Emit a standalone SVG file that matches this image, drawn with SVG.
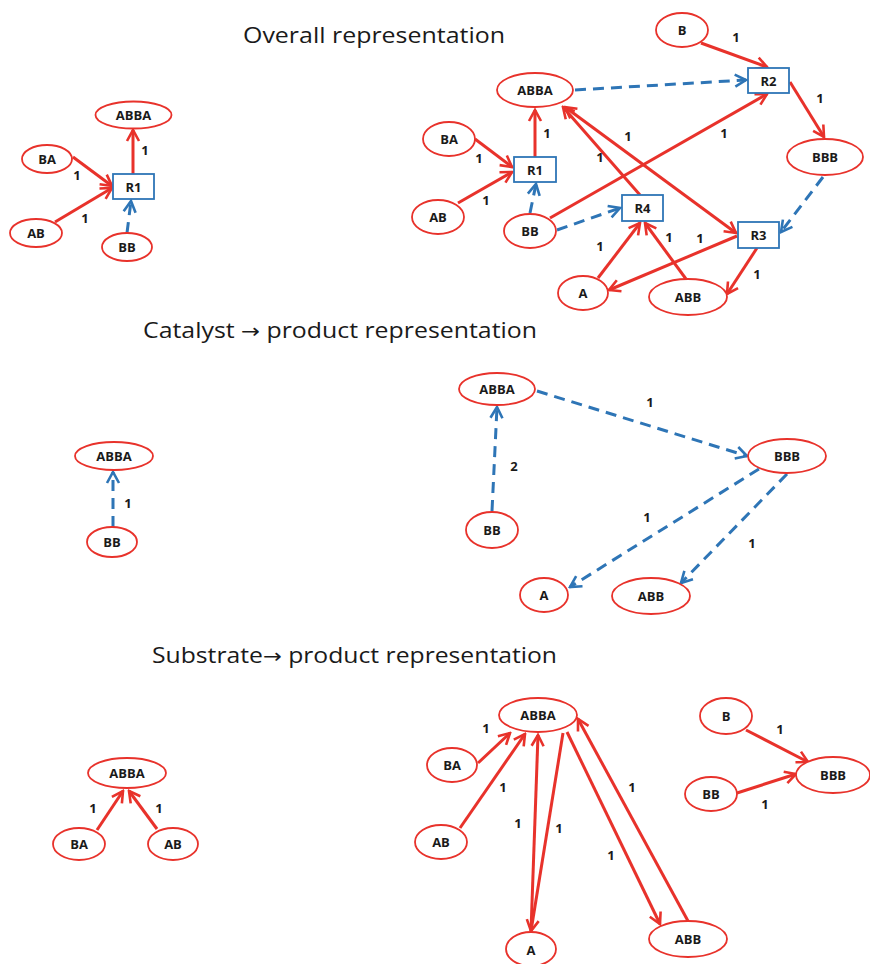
<svg xmlns="http://www.w3.org/2000/svg" width="870" height="964" viewBox="0 0 870 964">
<defs>
<style>
.n ellipse{fill:#fff;stroke:#E8322B;stroke-width:1.8}
.n rect{fill:#fff;stroke:#2E75B6;stroke-width:1.8}
.t{font-family:"Open Sans","Liberation Sans",sans-serif;font-weight:bold;font-size:13px;fill:#1a1a1a;text-anchor:middle;dominant-baseline:central}
.l{font-family:"Open Sans","Liberation Sans",sans-serif;font-weight:bold;font-size:13px;fill:#1a1a1a;text-anchor:middle;dominant-baseline:central}
.h{font-family:"Open Sans","Liberation Sans",sans-serif;font-size:22px;fill:#1a1a1a}
.arw{font-family:"DejaVu Sans",sans-serif;font-size:20px}
.r{fill:none;stroke:#E8322B;stroke-width:3;marker-end:url(#ar)}
.rr{fill:none;stroke:#E8322B;stroke-width:3;marker-end:url(#ar);marker-start:url(#ar)}
.b{fill:none;stroke:#2E75B6;stroke-width:3;stroke-dasharray:11 7;marker-end:url(#ab)}
</style>
<marker id="ar" markerUnits="userSpaceOnUse" markerWidth="16" markerHeight="16" refX="12" refY="7" orient="auto-start-reverse" viewBox="-2 -1 16 16">
<path d="M1,1 L12,7 L1,13" fill="none" stroke="#E8322B" stroke-width="2.6"/>
</marker>
<marker id="ab" markerUnits="userSpaceOnUse" markerWidth="16" markerHeight="16" refX="12" refY="7" orient="auto-start-reverse" viewBox="-2 -1 16 16">
<path d="M1,1 L12,7 L1,13" fill="none" stroke="#2E75B6" stroke-width="2.6"/>
</marker>
</defs>
<rect width="870" height="964" fill="#fff"/>

<text class="h" x="243" y="43" textLength="262" lengthAdjust="spacingAndGlyphs">Overall representation</text>
<text class="h" x="143" y="338" textLength="394" lengthAdjust="spacingAndGlyphs">Catalyst <tspan class="arw">→</tspan> product representation</text>
<text class="h" x="152" y="663" textLength="405" lengthAdjust="spacingAndGlyphs">Substrate<tspan class="arw">→</tspan> product representation</text>

<g id="connectors">
<!-- panel 1 -->
<line class="r" x1="73" y1="157" x2="112" y2="186"/>
<line class="r" x1="55" y1="222" x2="112" y2="188"/>
<line class="r" x1="133" y1="174" x2="133" y2="130"/>
<line class="b" x1="127" y1="233" x2="131" y2="201"/>
<!-- panel 2 -->
<line class="r" x1="701" y1="43" x2="767" y2="67"/>
<line class="b" x1="575" y1="90" x2="746" y2="80"/>
<line class="r" x1="790" y1="82" x2="824" y2="137"/>
<line class="b" x1="823" y1="177" x2="781" y2="232"/>
<line class="r" x1="475" y1="139" x2="512" y2="167"/>
<line class="r" x1="458" y1="203" x2="512" y2="172"/>
<line class="r" x1="535" y1="157" x2="535" y2="110"/>
<line class="b" x1="530" y1="213" x2="536" y2="184"/>
<line class="r" x1="550" y1="218" x2="767" y2="94"/>
<line class="b" x1="557" y1="230" x2="620" y2="208"/>
<line class="r" x1="640" y1="195" x2="563" y2="107"/>
<line class="rr" x1="565" y1="107" x2="736" y2="233"/>
<line class="r" x1="598" y1="278" x2="640" y2="223"/>
<line class="r" x1="686" y1="279" x2="645" y2="223"/>
<line class="r" x1="737" y1="236" x2="609" y2="290"/>
<line class="r" x1="757" y1="248" x2="727" y2="294"/>
<!-- panel 3 -->
<line class="b" x1="113" y1="527" x2="113" y2="472"/>
<line class="b" x1="537" y1="391" x2="747" y2="456"/>
<line class="b" x1="492" y1="511" x2="497" y2="407"/>
<line class="b" x1="759" y1="469" x2="570" y2="587"/>
<line class="b" x1="787" y1="474" x2="681" y2="583"/>
<!-- panel 4 -->
<line class="r" x1="97" y1="830" x2="123" y2="791"/>
<line class="r" x1="157" y1="829" x2="129" y2="791"/>
<line class="r" x1="478" y1="763" x2="510" y2="733"/>
<line class="r" x1="460" y1="828" x2="525" y2="734"/>
<line class="r" x1="531" y1="931" x2="538" y2="735"/>
<line class="r" x1="563" y1="733" x2="531" y2="931"/>
<line class="r" x1="567" y1="732" x2="660" y2="924"/>
<line class="r" x1="688" y1="921" x2="578" y2="719"/>
<line class="r" x1="746" y1="730" x2="808" y2="762"/>
<line class="r" x1="737" y1="793" x2="796" y2="774"/>

<g id="labels">
<text class="l" x="77" y="175">1</text>
<text class="l" x="85" y="218">1</text>
<text class="l" x="145" y="150">1</text>
<text class="l" x="736" y="37">1</text>
<text class="l" x="820" y="98">1</text>
<text class="l" x="479" y="158">1</text>
<text class="l" x="486" y="200">1</text>
<text class="l" x="547" y="133">1</text>
<text class="l" x="724" y="133">1</text>
<text class="l" x="600" y="157">1</text>
<text class="l" x="628" y="136">1</text>
<text class="l" x="600" y="246">1</text>
<text class="l" x="669" y="237">1</text>
<text class="l" x="700" y="238">1</text>
<text class="l" x="757" y="274">1</text>
<text class="l" x="128" y="503">1</text>
<text class="l" x="650" y="402">1</text>
<text class="l" x="514" y="466">2</text>
<text class="l" x="647" y="517">1</text>
<text class="l" x="752" y="543">1</text>
<text class="l" x="93" y="808">1</text>
<text class="l" x="159" y="808">1</text>
<text class="l" x="486" y="728">1</text>
<text class="l" x="503" y="787">1</text>
<text class="l" x="518" y="823">1</text>
<text class="l" x="559" y="828">1</text>
<text class="l" x="611" y="855">1</text>
<text class="l" x="632" y="787">1</text>
<text class="l" x="780" y="729">1</text>
<text class="l" x="765" y="804">1</text>
</g>
</g>

<!-- panel 1 nodes -->
<g id="p1-ABBA" class="n"><ellipse cx="133.5" cy="115" rx="38" ry="13.5"/><text class="t" x="133.5" y="115">ABBA</text></g>
<g id="p1-BA" class="n"><ellipse cx="47" cy="159" rx="25" ry="14"/><text class="t" x="47" y="159">BA</text></g>
<g id="p1-AB" class="n"><ellipse cx="36" cy="233" rx="26" ry="14"/><text class="t" x="36" y="233">AB</text></g>
<g id="p1-R1" class="n"><rect x="113" y="174" width="41" height="25"/><text class="t" x="133.5" y="186.5">R1</text></g>
<g id="p1-BB" class="n"><ellipse cx="127" cy="247" rx="25" ry="14"/><text class="t" x="127" y="247">BB</text></g>

<!-- panel 2 nodes -->
<g id="p2-B" class="n"><ellipse cx="682" cy="30" rx="26" ry="17"/><text class="t" x="682" y="30">B</text></g>
<g id="p2-R2" class="n"><rect x="748" y="68" width="41" height="25"/><text class="t" x="768.5" y="80.5">R2</text></g>
<g id="p2-ABBA" class="n"><ellipse cx="535" cy="90" rx="38" ry="17"/><text class="t" x="535" y="90">ABBA</text></g>
<g id="p2-BBB" class="n"><ellipse cx="825" cy="157" rx="38" ry="18"/><text class="t" x="825" y="157">BBB</text></g>
<g id="p2-BA" class="n"><ellipse cx="449" cy="139" rx="26" ry="17"/><text class="t" x="449" y="139">BA</text></g>
<g id="p2-R1" class="n"><rect x="514" y="157" width="42" height="25"/><text class="t" x="535" y="169.5">R1</text></g>
<g id="p2-AB" class="n"><ellipse cx="438" cy="217" rx="26" ry="17"/><text class="t" x="438" y="217">AB</text></g>
<g id="p2-BB" class="n"><ellipse cx="530" cy="231" rx="26" ry="17"/><text class="t" x="530" y="231">BB</text></g>
<g id="p2-R4" class="n"><rect x="622" y="195" width="41" height="26"/><text class="t" x="642.5" y="208">R4</text></g>
<g id="p2-R3" class="n"><rect x="738" y="222" width="41" height="26"/><text class="t" x="758.5" y="235">R3</text></g>
<g id="p2-A" class="n"><ellipse cx="583" cy="293" rx="25" ry="17"/><text class="t" x="583" y="293">A</text></g>
<g id="p2-ABB" class="n"><ellipse cx="688" cy="297" rx="39" ry="18"/><text class="t" x="688" y="297">ABB</text></g>

<!-- panel 3 nodes -->
<g id="p3-ABBA-left" class="n"><ellipse cx="114" cy="456" rx="39" ry="14"/><text class="t" x="114" y="456">ABBA</text></g>
<g id="p3-BB-left" class="n"><ellipse cx="112" cy="542" rx="25" ry="15"/><text class="t" x="112" y="542">BB</text></g>
<g id="p3-ABBA" class="n"><ellipse cx="497" cy="389" rx="38" ry="16"/><text class="t" x="497" y="389">ABBA</text></g>
<g id="p3-BBB" class="n"><ellipse cx="787" cy="456" rx="39" ry="17"/><text class="t" x="787" y="456">BBB</text></g>
<g id="p3-BB" class="n"><ellipse cx="492" cy="530" rx="26" ry="18"/><text class="t" x="492" y="530">BB</text></g>
<g id="p3-A" class="n"><ellipse cx="544" cy="595" rx="24" ry="17"/><text class="t" x="544" y="595">A</text></g>
<g id="p3-ABB" class="n"><ellipse cx="651" cy="596" rx="39" ry="18"/><text class="t" x="651" y="596">ABB</text></g>

<!-- panel 4 nodes -->
<g id="p4-ABBA-left" class="n"><ellipse cx="127" cy="773" rx="39" ry="15"/><text class="t" x="127" y="773">ABBA</text></g>
<g id="p4-BA-left" class="n"><ellipse cx="79" cy="844" rx="26" ry="16"/><text class="t" x="79" y="844">BA</text></g>
<g id="p4-AB-left" class="n"><ellipse cx="173" cy="844" rx="25" ry="16"/><text class="t" x="173" y="844">AB</text></g>
<g id="p4-ABBA" class="n"><ellipse cx="538" cy="715" rx="39" ry="17"/><text class="t" x="538" y="715">ABBA</text></g>
<g id="p4-BA" class="n"><ellipse cx="452" cy="765" rx="25" ry="17"/><text class="t" x="452" y="765">BA</text></g>
<g id="p4-AB" class="n"><ellipse cx="441" cy="842" rx="26" ry="17"/><text class="t" x="441" y="842">AB</text></g>
<g id="p4-A" class="n"><ellipse cx="531" cy="949" rx="25" ry="17"/><text class="t" x="531" y="950">A</text></g>
<g id="p4-ABB" class="n"><ellipse cx="688" cy="939" rx="39" ry="18"/><text class="t" x="688" y="939">ABB</text></g>
<g id="p4-B" class="n"><ellipse cx="726" cy="716" rx="26" ry="18"/><text class="t" x="726" y="716">B</text></g>
<g id="p4-BBB" class="n"><ellipse cx="833" cy="775" rx="37" ry="18"/><text class="t" x="833" y="775">BBB</text></g>
<g id="p4-BB" class="n"><ellipse cx="711" cy="794" rx="26" ry="17"/><text class="t" x="711" y="794">BB</text></g>
</svg>
